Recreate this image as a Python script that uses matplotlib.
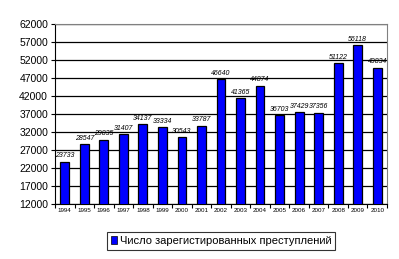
import numpy as np
import matplotlib
matplotlib.use('Agg')
import matplotlib.pyplot as plt
from matplotlib.patches import Patch

years = ['1994', '1995', '1996', '1997', '1998', '1999', '2000', '2001', '2002',
         '2003', '2004', '2005', '2006', '2007', '2008', '2009', '2010']
crimes = [23733, 28547, 29835, 31407, 34137, 33334, 30543, 33787, 46640,
          41365, 44874, 36703, 37429, 37356, 51122, 56118, 49834]
yticks = [12000, 17000, 22000, 27000, 32000, 37000, 42000, 47000, 52000, 57000, 62000]
legend_label = 'Число зарегистированных преступлений'

plt.rcParams['font.family'] = ['Liberation Sans', 'DejaVu Sans']

fig = plt.figure(figsize=(3.99, 2.59), dpi=100)
ax = fig.add_axes([55 / 399, 1 - 204 / 259, (387 - 55) / 399, (204 - 24) / 259])

x = np.arange(len(years))
ax.bar(x, crimes, width=0.45, color='#0000ff', edgecolor='black', linewidth=0.9,
       zorder=3)
ax.set_ylim(12000, 62000)
ax.set_xlim(-0.5, len(years) - 0.5)
ax.set_yticks(yticks)
ax.set_yticklabels([str(v) for v in yticks], fontsize=7.5)
ax.set_xticks(x)
ax.set_xticklabels(years, fontsize=4.5)
ax.yaxis.grid(True, color='black', linewidth=0.9, zorder=0)
ax.set_axisbelow(True)

ax.tick_params(axis='x', length=0, pad=3)
ax.tick_params(axis='y', length=3, width=0.8, pad=2)
ax.set_xticks(np.arange(-0.5, len(years)), minor=True)
ax.tick_params(axis='x', which='minor', length=3, width=0.8)

for s in ['top', 'right']:
    ax.spines[s].set_color('#808080')
for s in ['left', 'bottom']:
    ax.spines[s].set_color('black')

for xi, v in zip(x, crimes):
    ax.text(xi, v + 700, str(v), ha='center', va='bottom', fontsize=5,
            style='italic', zorder=4)

leg = fig.legend(handles=[Patch(facecolor='#0000ff', edgecolor='black', linewidth=0.5)],
                 labels=[legend_label], loc='center', bbox_to_anchor=(221 / 399, 1 - 241 / 259),
                 fontsize=8, frameon=True, fancybox=False, handlelength=0.6,
                 handleheight=0.8, handletextpad=0.2, borderpad=0.35)
leg.get_frame().set_edgecolor('black')
leg.get_frame().set_linewidth(0.8)

fig.savefig('out.png', dpi=100)
